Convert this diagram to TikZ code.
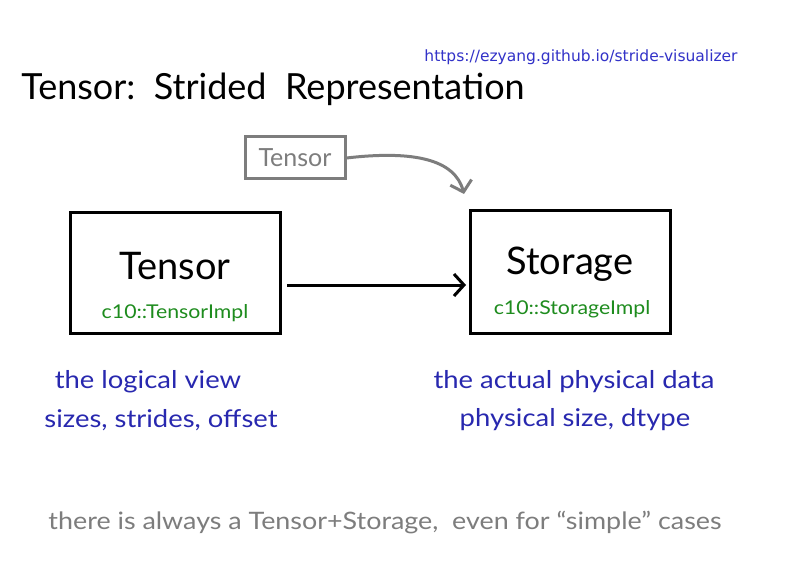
\documentclass[tikz,border=0pt]{standalone}
\usepackage{fontspec}
\setmainfont{Lato}
\newfontfamily\urlfont{DejaVu Sans}
\newfontfamily\notefont[FakeStretch=1.12,Ligatures=TeX]{Lato}
\usetikzlibrary{arrows.meta}
\definecolor{urlblue}{RGB}{50,50,200}
\definecolor{noteblue}{RGB}{40,40,175}
\definecolor{implgreen}{RGB}{30,140,30}
\definecolor{softgray}{RGB}{125,125,125}
\tikzset{
  bigbox/.style={draw=black, line width=3pt, minimum width=210pt, minimum height=120pt, inner sep=0pt},
  smallbox/.style={draw=softgray, line width=3pt, minimum width=100pt, minimum height=42pt, inner sep=0pt, text=softgray, font=\fontsize{25}{27}\selectfont},
  bigtext/.style={font=\fontsize{38}{42}\selectfont, text=black},
  impltext/.style={font=\notefont\fontsize{19}{21}\selectfont, text=implgreen},
  notetext/.style={font=\notefont\fontsize{24.5}{27}\selectfont, text=noteblue},
  graytext/.style={font=\notefont\fontsize{24}{26}\selectfont, text=softgray},
  conn/.style={line width=3pt, -{Straight Barb[length=10pt, width=22pt, line width=3pt]}},
}
\begin{document}
\begin{tikzpicture}[x=1pt,y=-1pt]
\useasboundingbox (0,0) rectangle (800,585);
\fill[white] (0,0) rectangle (800,585);
\node[font=\urlfont\fontsize{15.5}{17}\selectfont, text=urlblue, anchor=center] (url) at (581,57) {https://ezyang.github.io/stride-visualizer};
\node[font=\fontsize{36}{40}\selectfont, anchor=center] (title) at (273,89) {Tensor:\ \ Strided\ \ Representation};
\node[smallbox] (stensor) at (295,158) {Tensor};
\node[bigbox] (tensor) at (175,273) {};
\node[bigbox, minimum width=200pt, minimum height=122pt] (storage) at (570,272) {};
\node[bigtext] (tensorlbl) at (175,266) {Tensor};
\node[impltext] (tensorimpl) at (175,313) {c10::TensorImpl};
\node[bigtext] (storagelbl) at (570,264) {Storage};
\node[impltext] (storageimpl) at (572,309) {c10::StorageImpl};
\coordinate (arrs) at (287,285);
\coordinate (arre) at (466,285);
\draw[conn] (arrs) -- (arre);
\coordinate (garr) at (464,194);
\draw[conn, draw=softgray] (stensor.east) .. controls (415,150) and (455,160) .. (garr);
\node[notetext] (logical) at (148,382) {the logical view};
\node[notetext] (sizes) at (161,420) {sizes, strides, offset};
\node[notetext] (actual) at (574,382) {the actual physical data};
\node[notetext] (physsize) at (575,420) {physical size, dtype};
\node[graytext] (always) at (385,523) {there is always a Tensor+Storage,\ \ even for “simple” cases};
\end{tikzpicture}
\end{document}
